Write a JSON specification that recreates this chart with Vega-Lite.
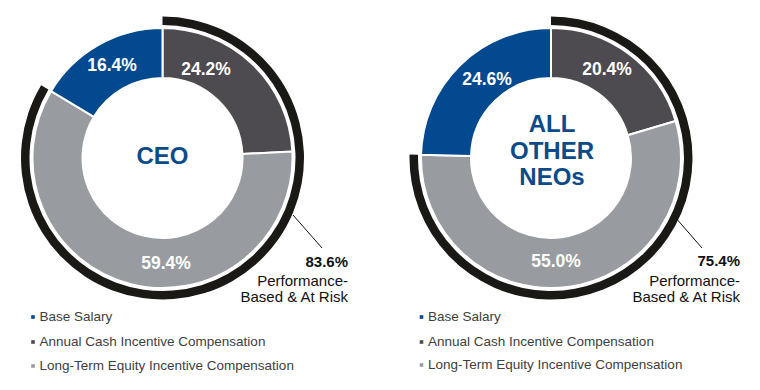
{
  "$schema": "https://vega.github.io/schema/vega-lite/v6.json",
  "padding": 0,
  "spacing": 63.5,
  "bounds": "flush",
  "background": "white",
  "config": {"view": {"stroke": null}, "font": "Liberation Sans"},
  "hconcat": [
    {
      "width": 325,
      "height": 316,
      "layer": [
        {
          "data": {"values": [
            {"cat": "Annual Cash Incentive Compensation", "pct": 24.2, "ord": 1},
            {"cat": "Long-Term Equity Incentive Compensation", "pct": 59.4, "ord": 2},
            {"cat": "Base Salary", "pct": 16.4, "ord": 3}
          ]},
          "mark": {"type": "arc", "innerRadius": 80, "outerRadius": 130, "stroke": "white", "strokeWidth": 2},
          "encoding": {
            "theta": {"field": "pct", "type": "quantitative", "stack": true},
            "order": {"field": "ord", "type": "quantitative"},
            "color": {"field": "cat", "type": "nominal", "legend": null,
              "scale": {"domain": ["Base Salary", "Annual Cash Incentive Compensation", "Long-Term Equity Incentive Compensation"], "range": ["#02498f", "#4d4a50", "#989ca1"]}}
          }
        },
        {
          "data": {"values": [
            {"part": "Performance-Based & At Risk", "pct": 83.6, "ord": 1},
            {"part": "Fixed", "pct": 16.4, "ord": 2}
          ]},
          "mark": {"type": "arc", "innerRadius": 133, "outerRadius": 141.5},
          "encoding": {
            "theta": {"field": "pct", "type": "quantitative", "stack": true},
            "order": {"field": "ord", "type": "quantitative"},
            "color": {"condition": {"test": "datum.ord == 1", "value": "#1b1915"}, "value": "transparent"}
          }
        },
        {
          "data": {"values": [
            {"t": "16.4%", "x": -50.5, "y": 92},
            {"t": "24.2%", "x": 43.5, "y": 88},
            {"t": "59.4%", "x": 3.5, "y": -106}
          ]},
          "mark": {"type": "text", "fontSize": 17.5, "fontWeight": "bold", "color": "white", "align": "center", "baseline": "middle"},
          "encoding": {
            "x": {"field": "x", "type": "quantitative", "scale": {"domain": [-162.5, 162.5], "nice": false, "zero": false}, "axis": null},
            "y": {"field": "y", "type": "quantitative", "scale": {"domain": [-158, 158], "nice": false, "zero": false}, "axis": null},
            "text": {"field": "t"}
          }
        },
        {
          "data": {"values": [{"t": "CEO", "x": 0, "y": 1}]},
          "mark": {"type": "text", "fontSize": 24, "fontWeight": "bold", "color": "#0c4a8a", "align": "center", "baseline": "middle"},
          "encoding": {
            "x": {"field": "x", "type": "quantitative"},
            "y": {"field": "y", "type": "quantitative"},
            "text": {"field": "t"}
          }
        },
        {
          "data": {"values": [{"x": 130.5, "y": -57, "x2": 159.5, "y2": -90}]},
          "mark": {"type": "rule", "color": "#111111", "strokeWidth": 1},
          "encoding": {
            "x": {"field": "x", "type": "quantitative"},
            "y": {"field": "y", "type": "quantitative"},
            "x2": {"field": "x2"},
            "y2": {"field": "y2"}
          }
        },
        {
          "data": {"values": [{"t": "83.6%", "x": 185.5, "y": -104}]},
          "mark": {"type": "text", "fontSize": 15, "fontWeight": "bold", "color": "#111111", "align": "right", "baseline": "middle"},
          "encoding": {
            "x": {"field": "x", "type": "quantitative"},
            "y": {"field": "y", "type": "quantitative"},
            "text": {"field": "t"}
          }
        },
        {
          "data": {"values": [
            {"t": "Performance-", "x": 185.5, "y": -123},
            {"t": "Based & At Risk", "x": 185.5, "y": -139}
          ]},
          "mark": {"type": "text", "fontSize": 15, "color": "#111111", "align": "right", "baseline": "middle"},
          "encoding": {
            "x": {"field": "x", "type": "quantitative"},
            "y": {"field": "y", "type": "quantitative"},
            "text": {"field": "t"}
          }
        },
        {
          "data": {"values": [
            {"cat": "Base Salary", "x": -129.5, "y": -159},
            {"cat": "Annual Cash Incentive Compensation", "x": -129.5, "y": -184},
            {"cat": "Long-Term Equity Incentive Compensation", "x": -129.5, "y": -208}
          ]},
          "mark": {"type": "point", "shape": "square", "filled": true, "size": 13, "opacity": 1},
          "encoding": {
            "x": {"field": "x", "type": "quantitative"},
            "y": {"field": "y", "type": "quantitative"},
            "color": {"field": "cat", "type": "nominal", "legend": null}
          }
        },
        {
          "data": {"values": [
            {"cat": "Base Salary", "x": -123, "y": -159},
            {"cat": "Annual Cash Incentive Compensation", "x": -123, "y": -184},
            {"cat": "Long-Term Equity Incentive Compensation", "x": -123, "y": -208}
          ]},
          "mark": {"type": "text", "fontSize": 13.5, "color": "#404040", "align": "left", "baseline": "middle"},
          "encoding": {
            "x": {"field": "x", "type": "quantitative"},
            "y": {"field": "y", "type": "quantitative"},
            "text": {"field": "cat"}
          }
        }
      ]
    },
    {
      "width": 325,
      "height": 316,
      "layer": [
        {
          "data": {"values": [
            {"cat": "Annual Cash Incentive Compensation", "pct": 20.4, "ord": 1},
            {"cat": "Long-Term Equity Incentive Compensation", "pct": 55.0, "ord": 2},
            {"cat": "Base Salary", "pct": 24.6, "ord": 3}
          ]},
          "mark": {"type": "arc", "innerRadius": 80, "outerRadius": 130, "stroke": "white", "strokeWidth": 2},
          "encoding": {
            "theta": {"field": "pct", "type": "quantitative", "stack": true},
            "order": {"field": "ord", "type": "quantitative"},
            "color": {"field": "cat", "type": "nominal", "legend": null,
              "scale": {"domain": ["Base Salary", "Annual Cash Incentive Compensation", "Long-Term Equity Incentive Compensation"], "range": ["#02498f", "#4d4a50", "#989ca1"]}}
          }
        },
        {
          "data": {"values": [
            {"part": "Performance-Based & At Risk", "pct": 75.4, "ord": 1},
            {"part": "Fixed", "pct": 24.6, "ord": 2}
          ]},
          "mark": {"type": "arc", "innerRadius": 133, "outerRadius": 141.5},
          "encoding": {
            "theta": {"field": "pct", "type": "quantitative", "stack": true},
            "order": {"field": "ord", "type": "quantitative"},
            "color": {"condition": {"test": "datum.ord == 1", "value": "#1b1915"}, "value": "transparent"}
          }
        },
        {
          "data": {"values": [
            {"t": "24.6%", "x": -64, "y": 78},
            {"t": "20.4%", "x": 56, "y": 88},
            {"t": "55.0%", "x": 5, "y": -104}
          ]},
          "mark": {"type": "text", "fontSize": 17.5, "fontWeight": "bold", "color": "white", "align": "center", "baseline": "middle"},
          "encoding": {
            "x": {"field": "x", "type": "quantitative", "scale": {"domain": [-162.5, 162.5], "nice": false, "zero": false}, "axis": null},
            "y": {"field": "y", "type": "quantitative", "scale": {"domain": [-158, 158], "nice": false, "zero": false}, "axis": null},
            "text": {"field": "t"}
          }
        },
        {
          "data": {"values": [
            {"t": "ALL", "x": 1, "y": 33},
            {"t": "OTHER", "x": 1, "y": 6.5},
            {"t": "NEOs", "x": 1, "y": -20}
          ]},
          "mark": {"type": "text", "fontSize": 24, "fontWeight": "bold", "color": "#0c4a8a", "align": "center", "baseline": "middle"},
          "encoding": {
            "x": {"field": "x", "type": "quantitative"},
            "y": {"field": "y", "type": "quantitative"},
            "text": {"field": "t"}
          }
        },
        {
          "data": {"values": [{"x": 124, "y": -59, "x2": 151, "y2": -90}]},
          "mark": {"type": "rule", "color": "#111111", "strokeWidth": 1},
          "encoding": {
            "x": {"field": "x", "type": "quantitative"},
            "y": {"field": "y", "type": "quantitative"},
            "x2": {"field": "x2"},
            "y2": {"field": "y2"}
          }
        },
        {
          "data": {"values": [{"t": "75.4%", "x": 189, "y": -103}]},
          "mark": {"type": "text", "fontSize": 15, "fontWeight": "bold", "color": "#111111", "align": "right", "baseline": "middle"},
          "encoding": {
            "x": {"field": "x", "type": "quantitative"},
            "y": {"field": "y", "type": "quantitative"},
            "text": {"field": "t"}
          }
        },
        {
          "data": {"values": [
            {"t": "Performance-", "x": 189, "y": -123},
            {"t": "Based & At Risk", "x": 189, "y": -139}
          ]},
          "mark": {"type": "text", "fontSize": 15, "color": "#111111", "align": "right", "baseline": "middle"},
          "encoding": {
            "x": {"field": "x", "type": "quantitative"},
            "y": {"field": "y", "type": "quantitative"},
            "text": {"field": "t"}
          }
        },
        {
          "data": {"values": [
            {"cat": "Base Salary", "x": -129.5, "y": -159},
            {"cat": "Annual Cash Incentive Compensation", "x": -129.5, "y": -184},
            {"cat": "Long-Term Equity Incentive Compensation", "x": -129.5, "y": -207}
          ]},
          "mark": {"type": "point", "shape": "square", "filled": true, "size": 13, "opacity": 1},
          "encoding": {
            "x": {"field": "x", "type": "quantitative"},
            "y": {"field": "y", "type": "quantitative"},
            "color": {"field": "cat", "type": "nominal", "legend": null}
          }
        },
        {
          "data": {"values": [
            {"cat": "Base Salary", "x": -123, "y": -159},
            {"cat": "Annual Cash Incentive Compensation", "x": -123, "y": -184},
            {"cat": "Long-Term Equity Incentive Compensation", "x": -123, "y": -207}
          ]},
          "mark": {"type": "text", "fontSize": 13.5, "color": "#404040", "align": "left", "baseline": "middle"},
          "encoding": {
            "x": {"field": "x", "type": "quantitative"},
            "y": {"field": "y", "type": "quantitative"},
            "text": {"field": "cat"}
          }
        }
      ]
    }
  ]
}
